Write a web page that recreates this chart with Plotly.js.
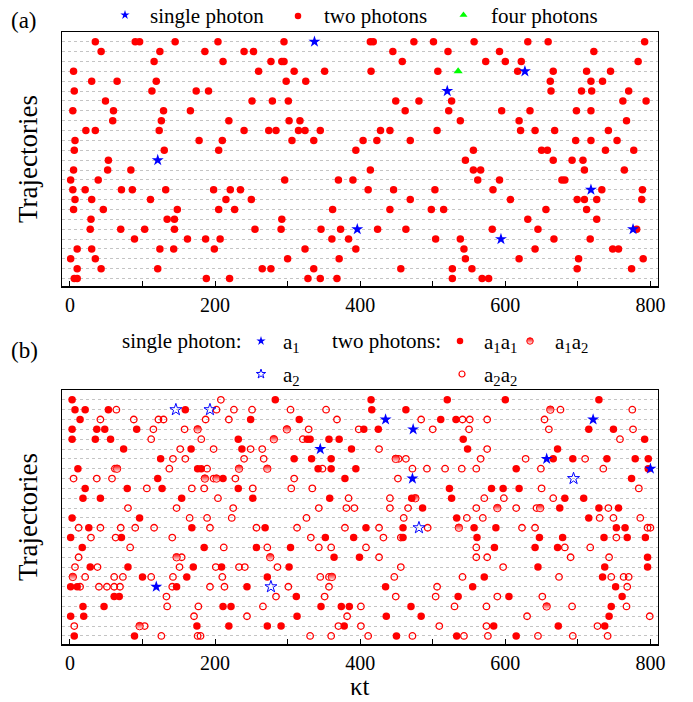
<!DOCTYPE html>
<html>
<head>
<meta charset="utf-8">
<script src="https://cdn.plot.ly/plotly-3.0.1.min.js"></script>
<style>html,body{margin:0;padding:0;background:#fff;}</style>
</head>
<body>
<div id="chart" style="width:693px;height:702px;"></div>
<script>
// ---------- DATA ----------
const xMajorStep = 200;   // labelled ticks
const xMinorStep = 100;   // unlabelled ticks
const trajRows = Array.from({length: 25}, (_, i) => i + 1);

// Panel (a): emission times (kappa t) of two-photon events, one list per trajectory (top -> bottom)
const aTwoPhotons = [
  [35, 90, 96, 145, 204, 295, 414, 418, 474, 501, 557, 631, 659, 792],
  [43, 124, 186, 240, 253, 445, 521, 592, 722],
  [116, 211, 277, 292, 295, 458, 573, 600, 622, 783],
  [5, 260, 309, 351, 415, 507, 617, 666, 712, 745],
  [30, 65, 119, 298, 325, 662, 718, 734],
  [6, 113, 174, 191, 663, 705, 719, 770],
  [49, 251, 279, 301, 449, 481, 526, 762, 794],
  [4, 60, 129, 166, 462, 522, 595, 634, 698, 718],
  [59, 126, 219, 302, 317, 538, 619, 767],
  [22, 35, 123, 240, 274, 284, 315, 324, 345, 428, 441, 506, 621, 641, 668, 742],
  [7, 178, 210, 306, 336, 404, 423, 469, 697, 718, 754],
  [6, 130, 205, 394, 556, 650, 658, 738, 777],
  [53, 545, 666, 692, 707],
  [5, 52, 84, 414, 556, 566, 709, 764],
  [1, 39, 296, 370, 390, 562, 592, 678, 682],
  [4, 21, 71, 86, 132, 198, 221, 235, 411, 446, 503, 583, 733, 789],
  [7, 30, 111, 215, 250, 469, 607, 699, 709, 726, 788],
  [5, 46, 148, 205, 227, 362, 441, 498, 515, 656, 712],
  [29, 134, 144, 292, 631, 726],
  [28, 70, 103, 144, 255, 291, 346, 373, 424, 463, 582, 645, 781],
  [89, 162, 187, 207, 361, 384, 504, 538, 667, 717],
  [10, 30, 124, 143, 199, 324, 394, 543, 641, 748, 756],
  [1, 35, 300, 371, 545, 619, 701, 790],
  [10, 43, 121, 265, 277, 336, 456, 527, 554, 699, 774],
  [6, 10, 188, 220, 328, 345, 368, 527, 568, 577]
];
const aSingleRow = [1, 4, 6, 13, 16, 20, 20, 21];
const aSingleX   = [337, 627, 520, 121, 718, 396, 776, 594];
const aFourRow = [4];
const aFourX   = [535];

// Panel (b): two-photon events a1a1 (filled), a1a2 (half), a2a2 (open), one list per trajectory
const bA1A1 = [
  [3, 283, 415, 520, 600, 729],
  [7, 21, 53, 159, 416, 463],
  [14, 249, 316, 511, 532],
  [3, 37, 48, 92, 405, 425, 715, 749],
  [3, 35, 56, 232, 327, 331, 357, 371, 542, 792],
  [74, 167, 237, 388, 548, 672],
  [125, 309, 333, 360, 666, 693, 740, 779, 797],
  [11, 176, 181, 342, 360, 394, 615, 797],
  [121, 211, 379, 774],
  [21, 79, 127, 232, 523, 581, 597, 619],
  [18, 42, 154, 252, 358, 471, 526, 682, 708],
  [486, 675, 729, 756],
  [3, 96, 533, 715],
  [26, 168, 269, 408, 459, 557, 587, 753, 765],
  [1, 71, 352, 391, 459, 561, 647, 679, 736, 768, 793],
  [17, 185, 257, 304, 585, 641, 672],
  [364, 399, 796],
  [28, 80, 170, 209, 302, 645, 737, 796],
  [100, 161, 272, 571, 734],
  [1, 10, 147, 244, 435, 555, 752],
  [61, 68, 312, 535, 605, 761],
  [18, 47, 211, 222, 346, 374, 385, 470, 746],
  [1, 19, 313, 436, 484, 743],
  [175, 219, 272, 291, 378, 584, 673, 737],
  [6, 89, 450, 533, 615]
];
const bA1A2 = [
  [], [662], [], [176, 299], [281], [], [449], [65, 233, 272], [186, 202], [],
  [476], [589, 648], [], [536], [], [], [147, 276], [], [4, 361], [],
  [], [657], [], [96], []
];
const bA2A2 = [
  [208],
  [64, 202, 226, 251, 304, 353, 676, 775],
  [42, 88, 122, 129, 187, 219, 368, 484, 541, 551, 575, 654],
  [115, 158, 329, 398, 500, 550, 660, 776],
  [112, 181, 321, 758],
  [152, 198, 249, 265, 426, 575],
  [142, 159, 240, 267, 453, 463, 566, 628, 710],
  [62, 137, 189, 348, 472, 492, 517, 540, 560, 649, 735],
  [5, 37, 58, 198, 228, 309, 452],
  [106, 168, 185, 252, 305, 334, 650, 784],
  [204, 384, 441, 571, 598, 666],
  [80, 147, 225, 343, 381, 392, 441, 466, 560, 615, 643, 742],
  [165, 189, 223, 326, 460, 547, 569, 730, 749, 786],
  [12, 42, 70, 90, 116, 193, 257, 313, 379, 426, 493, 623, 641, 796, 800],
  [29, 63, 141, 332, 432, 456, 753],
  [83, 212, 272, 343, 360, 408, 560, 682, 717],
  [12, 154, 426, 560, 575, 690, 743],
  [7, 38, 151, 201, 233, 241, 286, 456, 597],
  [21, 61, 73, 112, 142, 210, 345, 357, 447, 541, 674, 746, 763, 770],
  [14, 40, 51, 61, 69, 141, 193, 213, 301, 357, 506, 768],
  [133, 284, 351, 449, 504, 589, 651],
  [134, 177, 266, 401, 530, 574, 692, 767],
  [171, 244, 382, 630, 799],
  [6, 103, 370, 401, 509, 574, 727],
  [126, 176, 180, 331, 360, 411, 472, 543, 576, 645, 693, 741]
];
const bA1Row = [3, 3, 4, 6, 7, 8, 9, 20];
const bA1X   = [435, 721, 473, 345, 657, 800, 472, 119];
const bA2Row = [2, 2, 9, 14, 20];
const bA2X   = [146, 193, 694, 481, 277];

// ---------- BUILD ----------
function flat(nested) {
  const xs = [], ys = [];
  nested.forEach((vals, i) => vals.forEach(v => { xs.push(v); ys.push(i + 1); }));
  return {xs, ys};
}
const RED = '#ff0000', BLUE = '#0000ff', GREEN = '#00ff00';
const FONT = 'Liberation Serif';
const W = 693, H = 702;

const aTwo = flat(aTwoPhotons);
const b11 = flat(bA1A1), b12 = flat(bA1A2), b22 = flat(bA2A2);

const base = {type: 'scatter', mode: 'markers', hoverinfo: 'skip', showlegend: false, cliponaxis: false};
const halfMarker = {color: RED, symbol: 'circle', line: {color: RED, width: 1},
  gradient: {type: 'vertical', color: '#ffffff'}};
const traces = [
  Object.assign({}, base, {x: aTwo.xs, y: aTwo.ys, xaxis: 'x', yaxis: 'y',
    marker: {color: RED, size: 7.5, symbol: 'circle'}}),
  Object.assign({}, base, {x: aSingleX, y: aSingleRow, xaxis: 'x', yaxis: 'y',
    marker: {color: BLUE, size: 9, symbol: 'star'}}),
  Object.assign({}, base, {x: aFourX, y: aFourRow, xaxis: 'x', yaxis: 'y',
    marker: {color: GREEN, size: 8, symbol: 'triangle-up'}}),
  Object.assign({}, base, {x: b22.xs, y: b22.ys, xaxis: 'x2', yaxis: 'y2',
    marker: {color: RED, size: 6.5, symbol: 'circle-open', line: {color: RED, width: 1.3}}}),
  Object.assign({}, base, {x: b12.xs, y: b12.ys, xaxis: 'x2', yaxis: 'y2',
    marker: Object.assign({size: 7.5}, halfMarker)}),
  Object.assign({}, base, {x: b11.xs, y: b11.ys, xaxis: 'x2', yaxis: 'y2',
    marker: {color: RED, size: 7.5, symbol: 'circle'}}),
  Object.assign({}, base, {x: bA1X, y: bA1Row, xaxis: 'x2', yaxis: 'y2',
    marker: {color: BLUE, size: 9, symbol: 'star'}}),
  Object.assign({}, base, {x: bA2X, y: bA2Row, xaxis: 'x2', yaxis: 'y2',
    marker: {color: BLUE, size: 9, symbol: 'star-open', line: {color: BLUE, width: 1}}}),
  // legend keys (pixel overlay)
  Object.assign({}, base, {x: [125], y: [15], xaxis: 'x3', yaxis: 'y3', marker: {color: BLUE, size: 7, symbol: 'star'}}),
  Object.assign({}, base, {x: [298], y: [16], xaxis: 'x3', yaxis: 'y3', marker: {color: RED, size: 6.5, symbol: 'circle'}}),
  Object.assign({}, base, {x: [463.5], y: [15], xaxis: 'x3', yaxis: 'y3', marker: {color: GREEN, size: 7, symbol: 'triangle-up'}}),
  Object.assign({}, base, {x: [261], y: [341], xaxis: 'x3', yaxis: 'y3', marker: {color: BLUE, size: 7, symbol: 'star'}}),
  Object.assign({}, base, {x: [261], y: [374], xaxis: 'x3', yaxis: 'y3', marker: {color: BLUE, size: 7, symbol: 'star-open', line: {color: BLUE, width: 1}}}),
  Object.assign({}, base, {x: [460], y: [341], xaxis: 'x3', yaxis: 'y3', marker: {color: RED, size: 6.5, symbol: 'circle'}}),
  Object.assign({}, base, {x: [530], y: [341], xaxis: 'x3', yaxis: 'y3', marker: Object.assign({size: 6.5}, halfMarker)}),
  Object.assign({}, base, {x: [462], y: [374], xaxis: 'x3', yaxis: 'y3', marker: {color: RED, size: 6, symbol: 'circle-open', line: {color: RED, width: 1.2}}})
];

function xAx(anchor, dom) {
  return {domain: dom, range: [-10.5, 810], anchor: anchor, showline: true, mirror: true,
    linecolor: 'black', linewidth: 1.5, ticks: 'inside', ticklen: 5, tickwidth: 1, tickcolor: 'black',
    tickmode: 'linear', tick0: 0, dtick: xMajorStep,
    minor: {tickmode: 'linear', tick0: 0, dtick: xMinorStep, ticks: 'inside', ticklen: 5, tickwidth: 1, tickcolor: 'black', showgrid: false},
    tickfont: {family: FONT, size: 20, color: 'black'}, showgrid: false, zeroline: false, fixedrange: true};
}
function yAx(anchor, dom, rng) {
  return {domain: dom, range: rng, anchor: anchor, showline: true, mirror: true,
    linecolor: 'black', linewidth: 1.5, ticks: '', showticklabels: false,
    tickmode: 'array', tickvals: trajRows, showgrid: true, gridcolor: '#c4c4c4', griddash: 'dot', gridwidth: 1,
    zeroline: false, fixedrange: true};
}
const xDom = [62.3 / W, 657.7 / W];

function ann(x, y, text, size, opts) {
  return Object.assign({x: x, y: y, xref: 'x3', yref: 'y3', text: text, showarrow: false,
    xanchor: 'left', yanchor: 'middle', font: {family: FONT, size: size, color: 'black'}}, opts || {});
}

const annotations = [
  ann(9, 20, '(a)', 23),
  ann(148, 16, 'single photon', 21),
  ann(322, 16, 'two photons', 21),
  ann(489, 16, 'four photons', 21),
  ann(9, 350, '(b)', 23),
  ann(120, 341, 'single photon:', 21),
  ann(281, 343, 'a<sub>1</sub>', 21),
  ann(281, 376, 'a<sub>2</sub>', 21),
  ann(330, 341, 'two photons:', 21),
  ann(482, 343, 'a<sub>1</sub>a<sub>1</sub>', 21),
  ann(553, 343, 'a<sub>1</sub>a<sub>2</sub>', 21),
  ann(482, 376, 'a<sub>2</sub>a<sub>2</sub>', 21),
  ann(28, 159, 'Trajectories', 27, {xanchor: 'center', textangle: -90}),
  ann(28, 517, 'Trajectories', 27, {xanchor: 'center', textangle: -90}),
  ann(360, 686, 'κt', 25, {xanchor: 'center'})
];

const layout = {
  width: W, height: H,
  margin: {l: 0, r: 0, t: 0, b: 0},
  paper_bgcolor: '#ffffff', plot_bgcolor: 'rgba(0,0,0,0)',
  showlegend: false,
  font: {family: FONT, color: 'black'},
  xaxis: xAx('y', xDom),
  yaxis: yAx('x', [(H - 286) / H, (H - 32.3) / H], [25.75, 0.05]),
  xaxis2: xAx('y2', xDom),
  yaxis2: yAx('x2', [(H - 644.3) / H, (H - 390) / H], [25.85, 0]),
  xaxis3: {domain: [0, 1], range: [0, W], anchor: 'y3', visible: false, fixedrange: true},
  yaxis3: {domain: [0, 1], range: [H, 0], anchor: 'x3', visible: false, fixedrange: true},
  annotations: annotations
};

Plotly.newPlot('chart', traces, layout, {staticPlot: true, displayModeBar: false});
</script>
</body>
</html>
